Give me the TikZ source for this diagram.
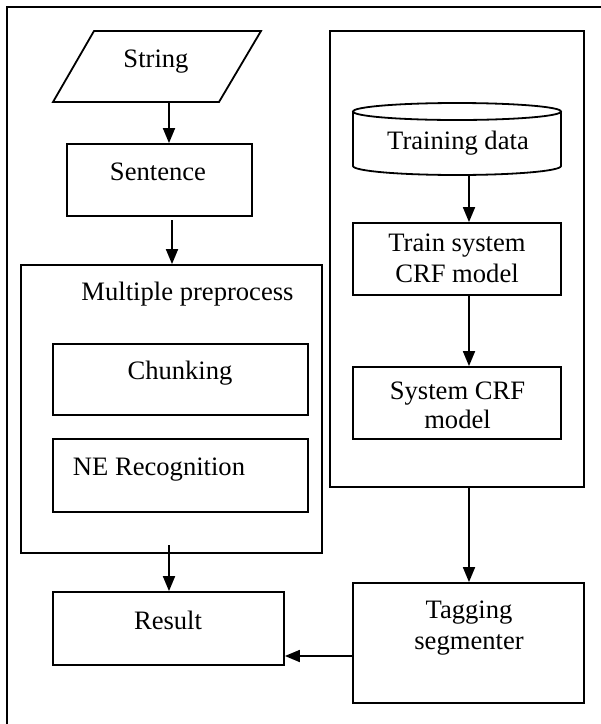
\documentclass[tikz,border=0pt]{standalone}
\usepackage{fontspec}
\setmainfont{Liberation Serif}
\usetikzlibrary{arrows.meta}
\begin{document}
\begin{tikzpicture}[x=1pt,y=-1pt,line width=1.8pt,
  box/.style={draw,line width=1.8pt,inner sep=0pt},
  txt/.style={anchor=base,inner sep=0pt,font=\fontsize{26.6}{31}\selectfont},
  arr/.style={-{Triangle[length=15pt,width=12pt]},line width=1.8pt}]
\useasboundingbox (0,0) rectangle (601,724);
% outer frame (top and left sides)
\draw (601,7) -- (7,7) -- (7,724);
% String parallelogram
\draw (94,31) -- (261,31) -- (219,102) -- (53,102) -- cycle;
\node[txt] (tstr) at (156,67) {String};
\coordinate (strb) at (169,102);
% Sentence
\node[box,minimum width=185pt,minimum height=72pt] (sent) at (159.5,180) {};
\node[txt] (tsent) at (158,180) {Sentence};
\coordinate (sentb) at (172,220);
% Multiple preprocess
\node[box,minimum width=301pt,minimum height=288pt] (multi) at (171.5,409) {};
\node[txt] (tmulti) at (187.5,300.5) {Multiple preprocess};
\node[box,minimum width=255pt,minimum height=71pt] (chunk) at (180.5,379.5) {};
\node[txt] (tchunk) at (180,379) {Chunking};
\node[box,minimum width=255pt,minimum height=73pt] (ne) at (180.5,475.5) {};
\node[txt] (tne) at (159,475) {NE Recognition};
\coordinate (multib) at (169,545);
% Result
\node[box,minimum width=231pt,minimum height=73pt] (res) at (168.5,628.5) {};
\node[txt] (tres) at (168,629) {Result};
% Right panel
\node[box,minimum width=254pt,minimum height=456pt] (panel) at (457,259) {};
% Training data cylinder
\draw (353,111.5) -- (353,166) arc[start angle=180,end angle=360,x radius=104pt,y radius=9pt] -- (561,111.5);
\draw (457,111.5) ellipse [x radius=104pt,y radius=8.5pt];
\node[txt] (ttd) at (458,149) {Training data};
\coordinate (tdb) at (469,175);
% Train system CRF model
\node[box,minimum width=208pt,minimum height=72pt] (train) at (457,259) {};
\node[txt] (ttrain1) at (457,251) {Train system};
\node[txt] (ttrain2) at (457,282) {CRF model};
% System CRF model
\node[box,minimum width=208pt,minimum height=72pt] (sys) at (457,403) {};
\node[txt] (tsys1) at (457.5,399) {System CRF};
\node[txt] (tsys2) at (457.5,428) {model};
% Tagging segmenter
\node[box,minimum width=231pt,minimum height=120pt] (tag) at (468.5,643) {};
\node[txt] (ttag1) at (469,618) {Tagging};
\node[txt] (ttag2) at (469,649) {segmenter};
% arrows
\draw[arr] (strb) -- (strb |- sent.north);
\draw[arr] (sentb) -- (sentb |- multi.north);
\draw[arr] (multib) -- (multib |- res.north);
\draw[arr] (tdb) -- (tdb |- train.north);
\draw[arr] (train.south -| tdb) -- (tdb |- sys.north);
\draw[arr] (panel.south -| tdb) -- (tdb |- tag.north);
\coordinate (tagl) at (tag.west |- 0,656);
\draw[arr] (tagl) -- (tagl -| res.east);
\end{tikzpicture}
\end{document}
